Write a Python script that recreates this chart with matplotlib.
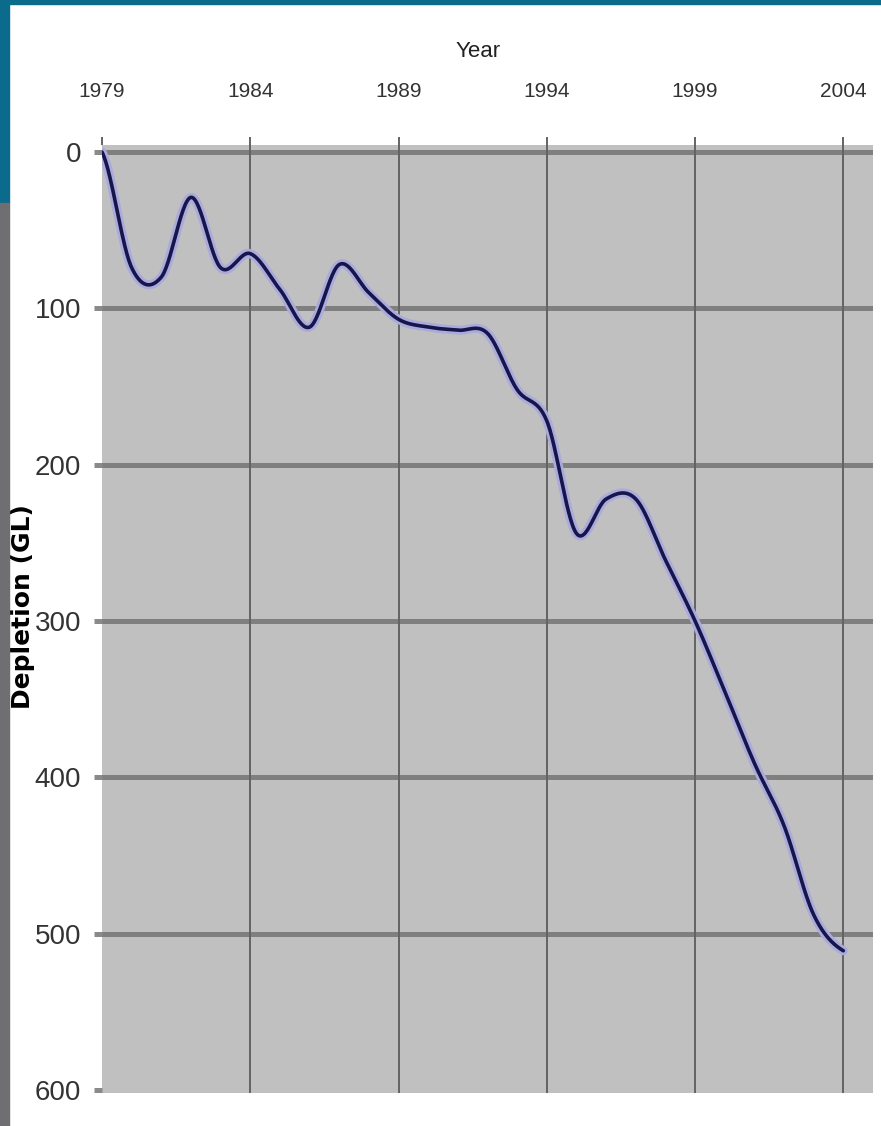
import numpy as np
import matplotlib
matplotlib.use("Agg")
import matplotlib.pyplot as plt
from matplotlib.patches import Rectangle

# ============================================================
# DATA
# ============================================================

years = list(range(1979, 2005))
depletion = [0, 74, 80, 29, 74, 65, 88, 112, 72, 90, 107, 112, 114, 116,
             152, 172, 244, 222, 222, 261, 300, 345, 391, 431, 488, 511]

x_ticks = [1979, 1984, 1989, 1994, 1999, 2004]
y_ticks = [0, 100, 200, 300, 400, 500, 600]


def smooth(xs, ys, n=30):
    # Excel-style smoothed line (Catmull-Rom through each point)
    xs = np.asarray(xs, float)
    ys = np.asarray(ys, float)
    px = np.concatenate([[2 * xs[0] - xs[1]], xs, [2 * xs[-1] - xs[-2]]])
    py = np.concatenate([[ys[0]], ys, [ys[-1]]])
    out_x, out_y = [], []
    t = np.linspace(0, 1, n, endpoint=False)
    for i in range(1, len(px) - 2):
        m0 = (py[i + 1] - py[i - 1]) / 2
        m1 = (py[i + 2] - py[i]) / 2
        h00 = 2 * t**3 - 3 * t**2 + 1
        h10 = t**3 - 2 * t**2 + t
        h01 = -2 * t**3 + 3 * t**2
        h11 = t**3 - t**2
        out_x.append(px[i] + t * (px[i + 1] - px[i]))
        out_y.append(h00 * py[i] + h10 * m0 + h01 * py[i + 1] + h11 * m1)
    out_x.append([xs[-1]])
    out_y.append([ys[-1]])
    return np.concatenate(out_x), np.concatenate(out_y)


# ============================================================
# FIGURE
# ============================================================

W, H = 881, 1126
fig = plt.figure(figsize=(W / 100, H / 100), dpi=100, facecolor="white")

# slide frame: teal top/left bands
fig.patches.append(Rectangle((0, 1 - 4 / H), 1, 4 / H, transform=fig.transFigure,
                             color="#0a6b8c", zorder=0))
fig.patches.append(Rectangle((0, 1 - 203 / H), 9 / W, 203 / H, transform=fig.transFigure,
                             color="#0a6b8c", zorder=0))
fig.patches.append(Rectangle((0, 0), 9 / W, 1 - 203 / H, transform=fig.transFigure,
                             color="#6f6f72", zorder=0))

left, right, top, bottom = 102, 873, 145, 1093
ax = fig.add_axes([left / W, 1 - bottom / H, (right - left) / W, (bottom - top) / H])
ax.set_facecolor("#c0c0c0")

for y in y_ticks[:-1]:
    ax.axhline(y, color="#7f7f7f", lw=3.6, zorder=1)
for x in x_ticks[1:]:
    ax.axvline(x, color="#636363", lw=1.4, zorder=1)

sx, sy = smooth(years, depletion)
ax.plot(sx, sy, color="#aaaadc", lw=6.5, solid_capstyle="round", zorder=2)
ax.plot(sx, sy, color="#16164a", lw=2.6, solid_capstyle="round", zorder=3)

ax.set_xlim(1979, 2005)
ax.set_ylim(602, -4.5)

for s in ax.spines.values():
    s.set_visible(False)

tick_font = ["Liberation Sans", "DejaVu Sans"]

ax.xaxis.tick_top()
ax.set_xticks(x_ticks)
ax.set_xticklabels([str(v) for v in x_ticks], family=tick_font, fontsize=15, color="#333333")
ax.tick_params(axis="x", length=6, width=1.4, color="#636363", pad=26)

ax.set_yticks(y_ticks)
ax.set_yticklabels([str(v) for v in y_ticks], family=tick_font, fontsize=20, color="#333333")
ax.tick_params(axis="y", length=6, width=3.6, color="#8a8a8a", pad=9)

ax.xaxis.set_label_position("top")
ax.set_xlabel("Year", family=tick_font, fontsize=16, color="#222222")
ax.xaxis.set_label_coords(0.4877, 1.093)

ax.set_ylabel("Depletion (GL)", family="DejaVu Sans", fontweight="bold", fontsize=18, color="black")
ax.yaxis.set_label_coords(-0.087, 0.513)

fig.savefig("out.png", dpi=100, facecolor="white")
